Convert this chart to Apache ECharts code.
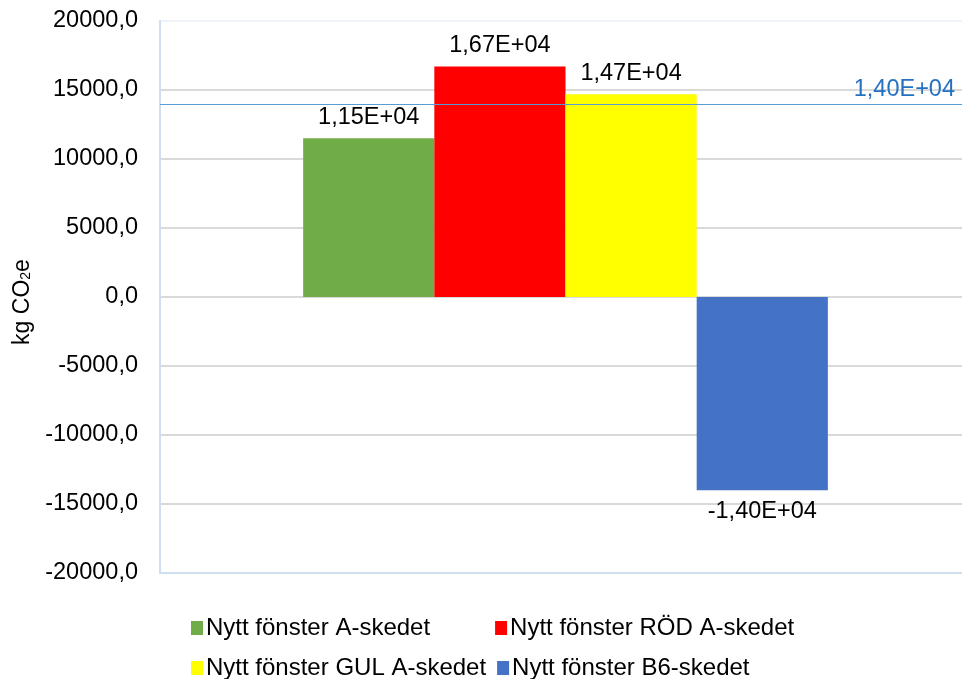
<!DOCTYPE html>
<html>
<head>
<meta charset="utf-8">
<script src="https://cdn.jsdelivr.net/npm/echarts@6/dist/echarts.min.js"></script>
<style>
  html, body { margin: 0; padding: 0; background: #fff; }
  #chart { width: 962px; height: 679px; }
</style>
</head>
<body>
<div id="chart"></div>
<script>
// Series names and their single values (kg CO2e)
const seriesNames = [
  'Nytt fönster A-skedet',
  'Nytt fönster RÖD A-skedet',
  'Nytt fönster GUL A-skedet',
  'Nytt fönster B6-skedet'
];
const seriesValues = [11500, 16700, 14700, -14000];
const seriesColors = ['#70AD47', '#FF0000', '#FFFF00', '#4472C4'];
const referenceValue = 14000;
const yTicks = [-20000, 20000, 5000]; // min, max, interval

const FONT = 'Liberation Sans, Arial, sans-serif';

// "1.15e+4" -> "1,15E+04"
function sci(v) {
  const s = v.toExponential(2);
  const [m, e] = s.split('e');
  const sign = e[0] === '-' ? '-' : '+';
  const digits = e.replace(/[+-]/, '').padStart(2, '0');
  return m.replace('.', ',') + 'E' + sign + digits;
}

const chart = echarts.init(document.getElementById('chart'), null, { renderer: 'canvas' });

const series = seriesNames.map((name, i) => {
  const s = {
    name: name,
    type: 'bar',
    data: [seriesValues[i]],
    barGap: '0%',
    barCategoryGap: '35.3%',
    itemStyle: { color: seriesColors[i] },
    label: {
      show: true,
      position: seriesValues[i] < 0 ? 'bottom' : 'top',
      distance: 9,
      formatter: p => sci(p.value),
      fontFamily: FONT,
      fontSize: 23.5,
      color: '#000'
    }
  };
  if (i === 0) {
    s.markLine = {
      silent: true,
      symbol: ['none', 'none'],
      lineStyle: { color: '#5B9BD5', width: 1, type: 'solid' },
      label: {
        show: true,
        position: 'insideEndTop',
        formatter: p => sci(p.value),
        fontFamily: FONT,
        fontSize: 23.5,
        color: '#2471C2',
        distance: [16, 2]
      },
      data: [{ yAxis: referenceValue }]
    };
  }
  return s;
});

// light grid lines, faint one at the top edge
const splitColors = [];
for (let v = yTicks[0]; v <= yTicks[1]; v += yTicks[2]) {
  splitColors.push(v === yTicks[1] ? '#EEF3F9' : '#D9D9D9');
}

const legendText = { fontFamily: FONT, fontSize: 24, color: '#000', padding: [0, 0, 0, -2] };

chart.setOption({
  backgroundColor: '#fff',
  animation: false,
  grid: { left: 160, width: 811, top: 21, bottom: 106, outerBoundsMode: 'none' },
  xAxis: {
    type: 'category',
    data: [''],
    axisLine: { onZero: false, lineStyle: { color: '#D0DFF0', width: 2 } },
    axisTick: { show: false },
    axisLabel: { show: false }
  },
  yAxis: {
    type: 'value',
    min: yTicks[0],
    max: yTicks[1],
    interval: yTicks[2],
    name: '{a|kg CO}{b|2}{a|e}',
    nameLocation: 'middle',
    nameGap: 126,
    nameRotate: 90,
    nameTextStyle: {
      padding: [0, 0, 0, -10],
      rich: {
        a: { fontFamily: FONT, fontSize: 23, color: '#000' },
        b: { fontFamily: FONT, fontSize: 14, color: '#000', padding: [7, 0, 0, 0] }
      }
    },
    axisLine: { show: true, lineStyle: { color: '#D0DFF0', width: 2 } },
    axisTick: { show: false },
    axisLabel: {
      margin: 22,
      fontFamily: FONT,
      fontSize: 23.5,
      color: '#000',
      formatter: v => v.toFixed(1).replace('.', ',')
    },
    splitLine: { show: true, lineStyle: { color: splitColors, width: 2 } }
  },
  legend: [
    {
      data: seriesNames.slice(0, 2),
      left: 186, top: 611,
      itemGap: 65,
      itemWidth: 12, itemHeight: 14,
      icon: 'rect',
      textStyle: legendText
    },
    {
      data: seriesNames.slice(2, 4),
      left: 186, top: 651,
      itemGap: 11,
      itemWidth: 12, itemHeight: 14,
      icon: 'rect',
      textStyle: legendText
    }
  ],
  series: series
});
</script>
</body>
</html>
